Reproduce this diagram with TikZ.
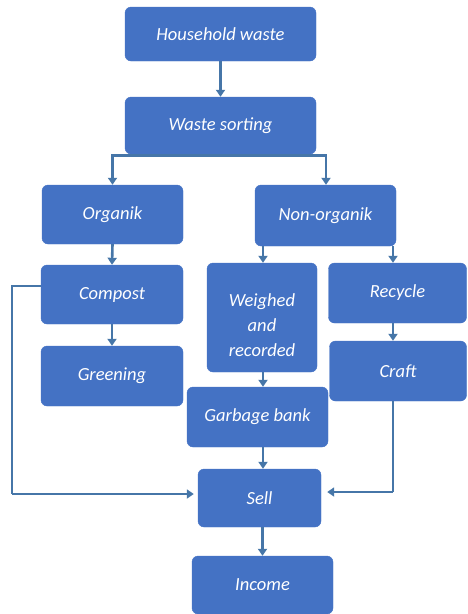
\documentclass[tikz,border=0pt]{standalone}
\usepackage{fontspec}
\setmainfont{Carlito}
\usetikzlibrary{arrows.meta}
\definecolor{boxblue}{RGB}{68,114,196}
\definecolor{linkblue}{RGB}{70,118,168}
\tikzset{
  box/.style={fill=boxblue, draw=boxblue, rounded corners=6pt, text=white,
    font=\fontsize{18.5}{23}\selectfont\itshape, align=center, inner sep=0pt},
  link/.style={draw=linkblue, line width=2.6pt,
    -{Triangle[length=7pt,width=9pt]}},
  plain/.style={draw=linkblue, line width=2.6pt}
}
\begin{document}
\begin{tikzpicture}[x=1pt,y=-1pt]
\useasboundingbox (0,0) rectangle (467,614);
\node[box, minimum width=191pt, minimum height=54pt] (household) at (220.5,34) {Household waste};
\node[box, minimum width=191pt, minimum height=57pt] (sorting) at (220.5,125.5) {Waste sorting};
\node[box, minimum width=141pt, minimum height=59pt] (organik) at (112.5,214.5) {Organik};
\node[box, minimum width=141pt, minimum height=61pt] (nonorganik) at (325.5,215.5) {Non-organik};
\node[box, minimum width=142pt, minimum height=59pt] (compost) at (112,294.5) {Compost};
\node[box, minimum width=110pt, minimum height=109pt] (weighed) at (262,317.5) {\rule{0pt}{28pt}Weighed\\[2pt]and\\[2pt]recorded};
\node[box, minimum width=138pt, minimum height=60pt] (recycle) at (397.5,293) {Recycle};
\node[box, minimum width=142pt, minimum height=60pt] (greening) at (112,376) {Greening};
\node[box, minimum width=137pt, minimum height=60pt] (craft) at (398,371) {Craft};
\node[box, minimum width=141pt, minimum height=60pt] (garbage) at (257.5,417) {Garbage bank};
\node[box, minimum width=123pt, minimum height=58pt] (sell) at (259.5,498) {Sell};
\node[box, minimum width=141pt, minimum height=58pt] (income) at (262.5,585) {Income};

\coordinate (split) at ([yshift=-1pt]sorting.south);
\coordinate (nsplitL) at ([xshift=-62.5pt]nonorganik.south);
\coordinate (nsplitR) at ([xshift=67.5pt]nonorganik.south);
\coordinate (cornerL) at (12,286);
\coordinate (cornerL2) at (12,494);
\coordinate (cornerR) at (393,492);

\draw[link] (household.south) -- (sorting.north);
\draw[link] (split) -| (organik.north);
\draw[link] (split) -| ([xshift=0.5pt]nonorganik.north);
\draw[link] (organik.south) -- (compost.north);
\draw[link] (compost.south) -- (greening.north);
\draw[link] (nsplitL) -- (nsplitL |- weighed.north);
\draw[link] (nsplitR) -- (nsplitR |- recycle.north);
\draw[link] (nsplitR |- recycle.south) -- (nsplitR |- craft.north);
\draw[link] ([xshift=1pt]weighed.south) -- ([xshift=1pt]weighed.south |- garbage.north);
\draw[link] ([xshift=5.5pt]garbage.south) -- ([xshift=5.5pt]garbage.south |- sell.north);
\draw[plain] (compost.west |- cornerL) -- (cornerL) -- (cornerL2);
\draw[link] (cornerL2) -- ([xshift=-4pt]cornerL2 -| sell.west);
\draw[plain] (nsplitR |- craft.south) -- (cornerR);
\draw[link] (cornerR) -- ([xshift=6pt]cornerR -| sell.east);
\draw[link] ([xshift=3pt]sell.south) -- ([xshift=3pt]sell.south |- income.north);
\end{tikzpicture}
\end{document}
